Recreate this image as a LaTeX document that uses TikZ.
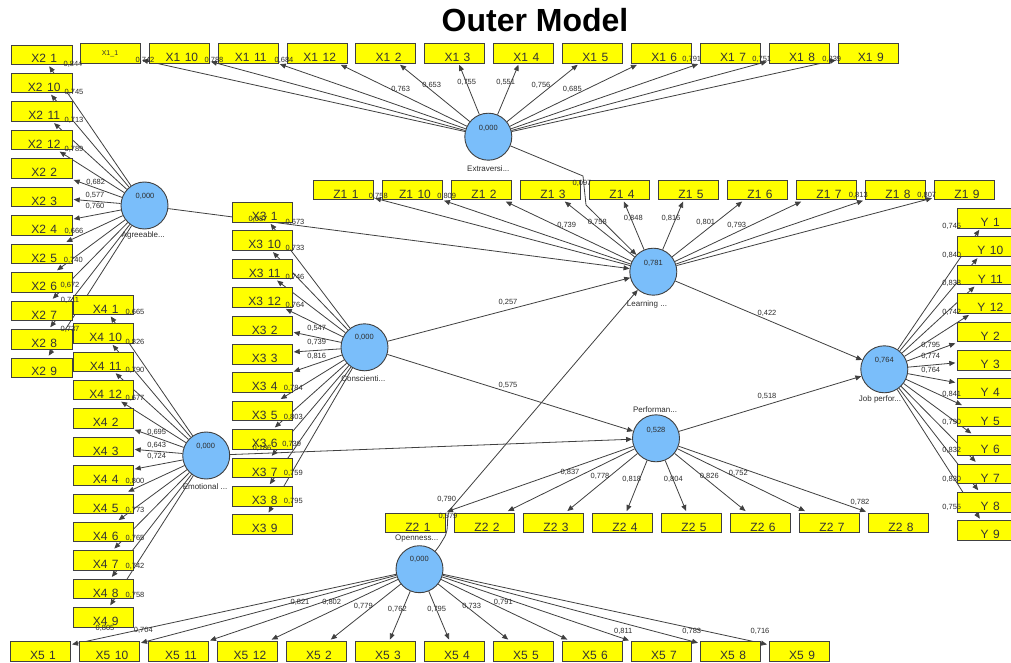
\documentclass[tikz,border=0pt]{standalone}
\usepackage{fontspec}
\setmainfont{Liberation Sans}
\usetikzlibrary{arrows.meta}
\pgfdeclarelayer{bg}
\pgfsetlayers{bg,main}
\definecolor{boxyellow}{RGB}{255,255,0}
\definecolor{lvblue}{RGB}{122,190,250}
\definecolor{edgegray}{RGB}{64,64,64}
\definecolor{txtgray}{RGB}{45,45,45}
\newcommand\bx[2]{\hspace*{6pt}#1\hspace{4.5pt}#2}
\begin{document}
\begin{tikzpicture}[x=1pt,y=-1pt,
  ind/.style={draw=black!75, fill=boxyellow, minimum width=60pt, minimum height=19.5pt,
    inner sep=0pt, text height=17pt, text depth=0pt, font=\fontsize{12}{12}\selectfont,
    text=black!80, outer sep=2pt},
  lv/.style={circle, draw=black!75, fill=lvblue, minimum size=47pt, inner sep=0pt, line width=0.9pt},
  lk/.style={draw=edgegray, line width=0.8pt, -{Triangle[length=6pt,width=5pt]}},
  ld/.style={font=\fontsize{7.5}{8}\selectfont, text=txtgray, inner sep=0pt},
  vt/.style={font=\fontsize{7.5}{8}\selectfont, text=txtgray, inner sep=0pt},
  nt/.style={font=\fontsize{8}{9}\selectfont, text=txtgray, inner sep=0pt}]
\useasboundingbox (0,0) rectangle (1011,663);
\clip (0,0) rectangle (1011,663);
\begin{pgfonlayer}{bg}
\fill[white] (0,0) rectangle (1011,663);
\end{pgfonlayer}

\node[font=\fontsize{32}{36}\selectfont\bfseries] (title) at (535,20) {Outer Model};

% latent variables
\node[lv] (agr) at (144.5,205.5) {};
\node[lv] (ext) at (488.3,136.7) {};
\node[lv] (lrn) at (653.3,271.7) {};
\node[lv] (job) at (884.3,369.3) {};
\node[lv] (prf) at (656,438.3) {};
\node[lv] (con) at (364.5,347.3) {};
\node[lv] (emo) at (206.2,455.5) {};
\node[lv] (opn) at (419.5,569.2) {};

\node[vt] (agr-v) at (145,196) {0,000};
\node[vt] (ext-v) at (488.3,128) {0,000};
\node[vt] (lrn-v) at (653.3,263.3) {0,781};
\node[vt] (job-v) at (884.3,360.5) {0,764};
\node[vt] (prf-v) at (656,430.7) {0,528};
\node[vt] (con-v) at (364.3,337.8) {0,000};
\node[vt] (emo-v) at (205.7,446.5) {0,000};
\node[vt] (opn-v) at (419.3,559.5) {0,000};

\node[nt] (agr-n) at (143.3,235.5) {Agreeable...};
\node[nt] (ext-n) at (488.3,168.3) {Extraversi...};
\node[nt] (lrn-n) at (647,304) {Learning ...};
\node[nt] (job-n) at (880,399.3) {Job perfor...};
\node[nt] (prf-n) at (655,409.3) {Performan...};
\node[nt] (con-n) at (363.3,379) {Conscienti...};
\node[nt] (emo-n) at (205,486.7) {Emotional ...};
\node[nt] (opn-n) at (416.7,538.3) {Openness...};

% indicators
\node[ind, text height=5pt, font=\fontsize{7}{7}\selectfont] (X1-1) at (110,53) {X1\_1};
\foreach \t [count=\k from 1] in {10,11,12,2,3,4,5,6,7,8,9}
  \node[ind] (X1-\t) at ({110+68.9*\k},53) {\bx{X1}{\t}};
\foreach \t [count=\k from 0] in {1,10,11,12,2,3,4,5,6,7,8,9}{
  \node[ind, minimum width=61pt] (X2-\t) at (41.2,{54.5+28.45*\k}) {\bx{X2}{\t}};
  \node[ind] (X3-\t) at (261.7,{212+28.4*\k}) {\bx{X3}{\t}};
  \node[ind] (X4-\t) at (102.7,{304.7+28.4*\k}) {\bx{X4}{\t}};
  \node[ind] (X5-\t) at ({40+69*\k},651.3) {\bx{X5}{\t}};
  \node[ind] (Y-\t) at (987.3,{218+28.4*\k}) {\bx{Y}{\t}};
}
\foreach \t [count=\k from 0] in {1,10,2,3,4,5,6,7,8,9}
  \node[ind] (Z1-\t) at ({343+69*\k},189.8) {\bx{Z1}{\t}};
\foreach \t [count=\k from 0] in {1,2,3,4,5,6,7,8}
  \node[ind] (Z2-\t) at ({415+69*\k},522.8) {\bx{Z2}{\t}};

% loadings
\foreach \t/\x/\y/\v in {1/145/60/{0,742},10/214/60/{0,788},11/284/60/{0,684},12/400.7/89/{0,763},
  2/431.7/85/{0,653},3/466.7/82.3/{0,755},4/505.7/82.3/{0,551},5/541/85.7/{0,756},6/572.3/89/{0,685},
  7/691.7/59/{0,791},8/761.7/59/{0,751},9/831.7/59/{0,839}}{
  \begin{pgfonlayer}{bg}\draw[lk] (ext) -- (X1-\t);\end{pgfonlayer}
  \node[ld] (lX1-\t) at (\x,\y) {\v};
}
\foreach \t/\x/\y/\v in {1/73/64/{0,844},10/74/92.3/{0,745},11/74/120.7/{0,713},12/74/149/{0,789},
  2/95.7/182.3/{0,682},3/95/195/{0,577},4/95/206.7/{0,760},5/74/231.7/{0,666},6/73.3/260/{0,740},
  7/70/285.7/{0,672},8/70/300.7/{0,711},9/70/329/{0,737}}{
  \begin{pgfonlayer}{bg}\draw[lk] (agr) -- (X2-\t);\end{pgfonlayer}
  \node[ld] (lX2-\t) at (\x,\y) {\v};
}
\foreach \t/\x/\y/\v in {1/295/222.3/{0,673},10/295/248.3/{0,733},11/295/277.3/{0,746},12/295/305.7/{0,764},
  2/316.7/328.3/{0,547},3/316.7/342.3/{0,739},4/316.7/356/{0,816},5/293.3/388.3/{0,784},6/293.3/417.3/{0,803},
  7/291.7/444/{0,739},8/293.3/473.3/{0,759},9/293.3/501.7/{0,795}}{
  \begin{pgfonlayer}{bg}\draw[lk] (con) -- (X3-\t);\end{pgfonlayer}
  \node[ld] (lX3-\t) at (\x,\y) {\v};
}
\foreach \t/\x/\y/\v in {1/135/312.7/{0,665},10/135/342.3/{0,826},11/135/370.7/{0,790},12/135/398.3/{0,677},
  2/156.7/432.7/{0,695},3/156.7/445/{0,643},4/156.7/456.7/{0,724},5/135/481.7/{0,800},6/135/510/{0,773},
  7/135/538.3/{0,765},8/135/566.7/{0,742},9/135/595/{0,758}}{
  \begin{pgfonlayer}{bg}\draw[lk] (emo) -- (X4-\t);\end{pgfonlayer}
  \node[ld] (lX4-\t) at (\x,\y) {\v};
}
\foreach \t/\x/\y/\v in {1/105/628.3/{0,805},10/143.3/630.7/{0,704},11/300/602.7/{0,821},12/331.7/602.7/{0,802},
  2/363.3/606/{0,779},3/397.3/609.3/{0,762},4/436.7/609.3/{0,795},5/471.7/606/{0,733},6/503.3/602.7/{0,791},
  7/623.3/631/{0,811},8/691.7/631/{0,783},9/760/631/{0,716}}{
  \begin{pgfonlayer}{bg}\draw[lk] (opn) -- (X5-\t);\end{pgfonlayer}
  \node[ld] (lX5-\t) at (\x,\y) {\v};
}
\foreach \t/\x/\y/\v in {1/951.7/226.7/{0,745},10/951.7/255/{0,840},11/951.7/283.3/{0,838},12/951.7/312.3/{0,742},
  2/930.7/345/{0,795},3/930.7/356.7/{0,774},4/930.7/370.7/{0,764},5/951.7/394/{0,841},6/951.7/422.7/{0,790},
  7/951.7/450.7/{0,832},8/951.7/479.3/{0,830},9/951.7/507.3/{0,755}}{
  \begin{pgfonlayer}{bg}\draw[lk] (job) -- (Y-\t);\end{pgfonlayer}
  \node[ld] (lY-\t) at (\x,\y) {\v};
}
\foreach \t/\x/\y/\v in {1/378.3/196/{0,758},10/446.7/196/{0,809},2/566.7/225/{0,739},3/597.3/222.3/{0,758},
  4/633.3/218.3/{0,848},5/671/218.3/{0,816},6/705.7/222.7/{0,801},7/736.7/225/{0,793},8/858.3/195/{0,813},
  9/926.7/195/{0,807}}{
  \begin{pgfonlayer}{bg}\draw[lk] (lrn) -- (Z1-\t);\end{pgfonlayer}
  \node[ld] (lZ1-\t) at (\x,\y) {\v};
}
\foreach \t/\x/\y/\v in {1/446.7/499/{0,790},2/570/472.3/{0,837},3/600/476/{0,778},4/631.7/479.3/{0,818},
  5/673.3/479.3/{0,804},6/709.3/476/{0,826},7/738.3/473.3/{0,752},8/860/502.7/{0,782}}{
  \begin{pgfonlayer}{bg}\draw[lk] (prf) -- (Z2-\t);\end{pgfonlayer}
  \node[ld] (lZ2-\t) at (\x,\y) {\v};
}

% structural paths
\coordinate (eb1) at (583,176);
\coordinate (eb2) at (586,205);
\coordinate (ob1) at (438,548);
\coordinate (ob2) at (447,533);
\coordinate (ob3) at (448,512);
\begin{pgfonlayer}{bg}
\draw[lk] (agr) -- (lrn);
\draw[lk] (ext) -- (eb1) -- (eb2) -- (lrn);
\draw[lk] (con) -- (lrn);
\draw[lk] (con) -- (prf);
\draw[lk] (emo) -- (prf);
\draw[lk, rounded corners=5pt] (opn) -- (ob1) -- (ob2) -- (ob3) -- (lrn);
\draw[lk] (lrn) -- (job);
\draw[lk] (prf) -- (job);
\end{pgfonlayer}
\node[ld] (p1) at (258,219) {0,087};
\node[ld] (p2) at (582,183) {0,097};
\node[ld] (p3) at (508,302) {0,257};
\node[ld] (p4) at (508,385) {0,575};
\node[ld] (p5) at (262,448) {0,186};
\node[ld] (p6) at (448,516) {0,579};
\node[ld] (p7) at (767,313) {0,422};
\node[ld] (p8) at (767,396) {0,518};
\end{tikzpicture}
\end{document}
